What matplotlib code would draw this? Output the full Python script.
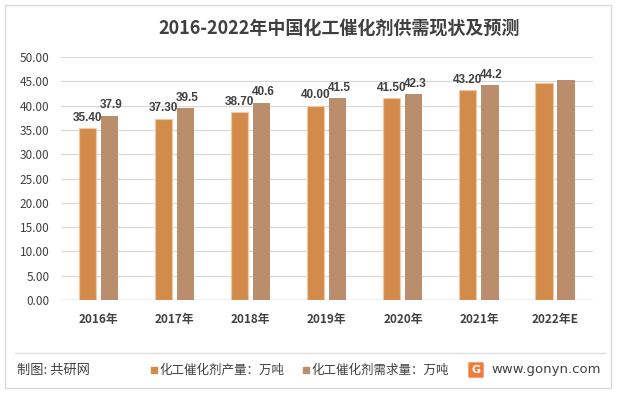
import matplotlib
matplotlib.use("Agg")
import matplotlib.pyplot as plt
from matplotlib.patches import Rectangle, FancyBboxPatch
import numpy as np

plt.rcParams['font.family'] = ['Noto Sans CJK SC', 'DejaVu Sans']

categories = ["2016年", "2017年", "2018年", "2019年", "2020年", "2021年", "2022年E"]
production = [35.40, 37.30, 38.70, 40.00, 41.50, 43.20, 44.6]
demand = [37.9, 39.5, 40.6, 41.5, 42.3, 44.2, 45.3]
prod_labels = ["35.40", "37.30", "38.70", "40.00", "41.50", "43.20", None]
dem_labels = ["37.9", "39.5", "40.6", "41.5", "42.3", "44.2", None]
yticks = [0, 5, 10, 15, 20, 25, 30, 35, 40, 45, 50]
title = "2016-2022年中国化工催化剂供需现状及预测"
legend_names = ["化工催化剂产量：万吨", "化工催化剂需求量：万吨"]

c_prod = "#D38B4C"
c_dem = "#BA8D6C"
txt = "#404040"

W, H = 617, 393
fig = plt.figure(figsize=(W / 100, H / 100), dpi=100)

# outer border
fig.patches.append(Rectangle((5 / W, 5 / H), 606 / W, 383 / H, transform=fig.transFigure,
                             fill=False, edgecolor="#D9D9D9", linewidth=1))

ax = fig.add_axes([60.7 / W, 1 - 300 / H, (593 - 60.7) / W, (300 - 57) / H])
x = np.arange(len(categories))
bw = 0.225
off = 0.145
ax.bar(x - off, production, bw, color=c_prod, edgecolor="#F2C9A4", linewidth=0.8, zorder=3)
ax.bar(x + off, demand, bw, color=c_dem, zorder=3)

lab_font = dict(fontsize=8.5, fontweight="bold", color=txt, family="Liberation Sans")
for i in range(len(categories)):
    if prod_labels[i]:
        ax.text(x[i] - off, production[i] + 0.9, prod_labels[i], ha="center", va="bottom", **lab_font)
    if dem_labels[i]:
        ax.text(x[i] + off + 0.02, demand[i] + 0.9, dem_labels[i], ha="center", va="bottom", **lab_font)

ax.set_xlim(-0.5, len(categories) - 0.5)
ax.set_ylim(0, 50)
ax.set_yticks(yticks)
ax.set_yticklabels([f"{v:.2f}" for v in yticks], fontsize=8.5, color=txt)
ax.set_xticks(x)
ax.set_xticklabels(categories, fontsize=8.5, color=txt, fontweight="bold")
ax.tick_params(axis="both", length=0)
ax.tick_params(axis="x", pad=9)
ax.tick_params(axis="y", pad=8)
ax.grid(axis="y", color="#D9D9D9", linewidth=0.9, zorder=0)
for s in ax.spines.values():
    s.set_visible(False)
ax.axhline(0, color="#D0D0D0", linewidth=1, zorder=1)

fig.text(339.5 / W, 1 - 28 / H, title, ha="center", va="center", fontsize=13, fontweight="bold", color=txt)

# footer
fig.add_artist(plt.Line2D([15 / W, 605 / W], [1 - 353 / H, 1 - 353 / H], transform=fig.transFigure,
                          color="#E0E0E0", linewidth=1))
fy = 1 - 370 / H
fig.text(17 / W, fy, "制图: 共研网", ha="left", va="center", fontsize=9.5, color=txt, fontweight="medium")
fig.patches.append(Rectangle((151 / W, fy - 3 / H), 6 / W, 6 / H, transform=fig.transFigure,
                             color=c_prod))
fig.text(159 / W, fy, legend_names[0], ha="left", va="center", fontsize=9, color=txt, fontweight="medium")
fig.patches.append(Rectangle((303 / W, fy - 3 / H), 6 / W, 6 / H, transform=fig.transFigure,
                             color=c_dem))
fig.text(311 / W, fy, legend_names[1], ha="left", va="center", fontsize=9, color=txt, fontweight="medium")
# logo
fig.patches.append(FancyBboxPatch((469 / W, fy - 7 / H), 14 / W, 14 / H, transform=fig.transFigure,
                                  boxstyle="round,pad=0", color="#F07B3A"))
fig.text(476 / W, fy, "G", ha="center", va="center", fontsize=8, color="white", fontweight="bold",
         family="DejaVu Sans")
fig.text(491 / W, fy + 1 / H, "www.gonyn.com", ha="left", va="center", fontsize=9.5, color=txt,
         family="DejaVu Sans")

fig.savefig("out.png", dpi=100)
